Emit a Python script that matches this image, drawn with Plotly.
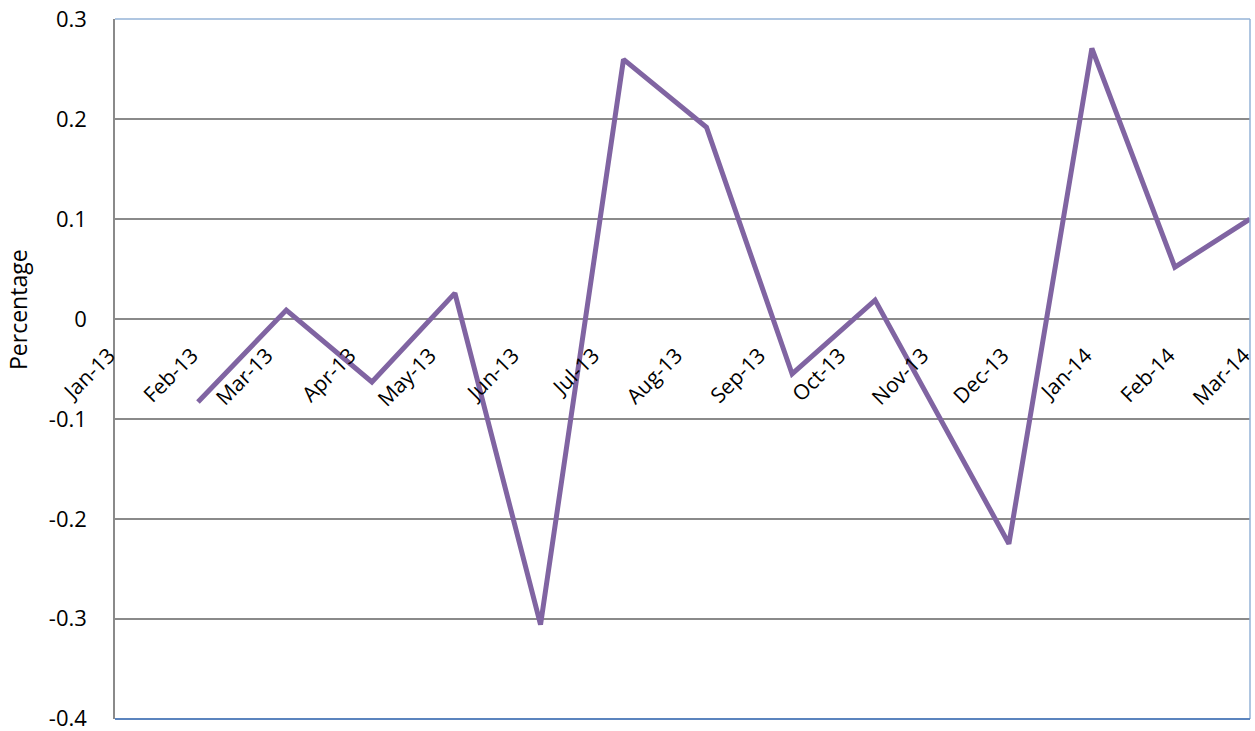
import plotly.graph_objects as go

# ---- data ----
dates = ["2013-02-01", "2013-03-06", "2013-04-07", "2013-05-08", "2013-06-09",
         "2013-07-10", "2013-08-10", "2013-09-11", "2013-10-12", "2013-12-01",
         "2014-01-01", "2014-02-01", "2014-03-01"]
values = [-0.083, 0.009, -0.063, 0.026, -0.306, 0.260, 0.192, -0.055, 0.019,
          -0.225, 0.271, 0.052, 0.100]

x_tick_vals = ["2013-01-01", "2013-02-01", "2013-03-01", "2013-04-01", "2013-05-01",
               "2013-06-01", "2013-07-01", "2013-08-01", "2013-09-01", "2013-10-01",
               "2013-11-01", "2013-12-01", "2014-01-01", "2014-02-01", "2014-03-01"]
x_tick_text = ["Jan-13", "Feb-13", "Mar-13", "Apr-13", "May-13", "Jun-13", "Jul-13",
               "Aug-13", "Sep-13", "Oct-13", "Nov-13", "Dec-13", "Jan-14", "Feb-14",
               "Mar-14"]
y_tick_vals = [0.3, 0.2, 0.1, 0.0, -0.1, -0.2, -0.3, -0.4]
y_tick_text = ["0.3", "0.2", "0.1", "0", "-0.1", "-0.2", "-0.3", "-0.4"]

FONT = "Open Sans"
y_min, y_max = -0.4, 0.3
eps = 0.0004  # tiny padding so edge tick labels are kept

fig = go.Figure()
fig.add_trace(go.Scatter(
    x=dates, y=values, mode="lines",
    line=dict(color="#8064A2", width=5),
    hoverinfo="skip", showlegend=False,
))

fig.update_layout(
    width=1255, height=731,
    margin=dict(l=115, r=5, t=19, b=12, autoexpand=False),
    paper_bgcolor="white", plot_bgcolor="white",
    font=dict(family=FONT, size=21, color="black"),
    xaxis=dict(
        type="date",
        range=["2013-01-01", "2014-03-01 02:00"],
        tickmode="array", tickvals=x_tick_vals, ticktext=x_tick_text,
        tickangle=-45,
        anchor="free",
        position=(0 - (y_min - eps)) / (y_max + eps - (y_min - eps)),
        showgrid=False, zeroline=False, showline=False, ticks="",
        ticklabelstandoff=19,
        ticklabelshift=-6,
        ticklabeloverflow="allow",
        automargin=False,
        tickfont=dict(family=FONT, size=21),
    ),
    yaxis=dict(
        range=[y_min - eps, y_max + eps],
        tickmode="array", tickvals=y_tick_vals, ticktext=y_tick_text,
        showgrid=True, gridcolor="#8A8A8A", gridwidth=1.5,
        zeroline=False,
        showline=True, linecolor="#8A8A8A", linewidth=1.5,
        ticks="", ticklabelstandoff=22,
        ticklabeloverflow="allow",
        automargin=False,
        tickfont=dict(family=FONT, size=22),
    ),
    annotations=[
        dict(text="Percentage", xref="paper", yref="paper",
             x=-115 / 1135 + 18 / 1135, y=(731 - 12 - 310) / 700,
             xanchor="center", yanchor="middle", textangle=-90,
             showarrow=False, font=dict(family=FONT, size=23)),
    ],
    shapes=[
        dict(type="line", xref="paper", yref="paper", x0=0, x1=1, y0=1, y1=1,
             line=dict(color="#95B3D7", width=1.5), layer="above"),
        dict(type="line", xref="paper", yref="paper", x0=1, x1=1, y0=0, y1=1,
             line=dict(color="#95B3D7", width=1.5), layer="above"),
        dict(type="line", xref="paper", yref="paper", x0=0, x1=1, y0=0, y1=0,
             line=dict(color="#5B84BE", width=2), layer="above"),
    ],
)

fig.write_html("out.html")
